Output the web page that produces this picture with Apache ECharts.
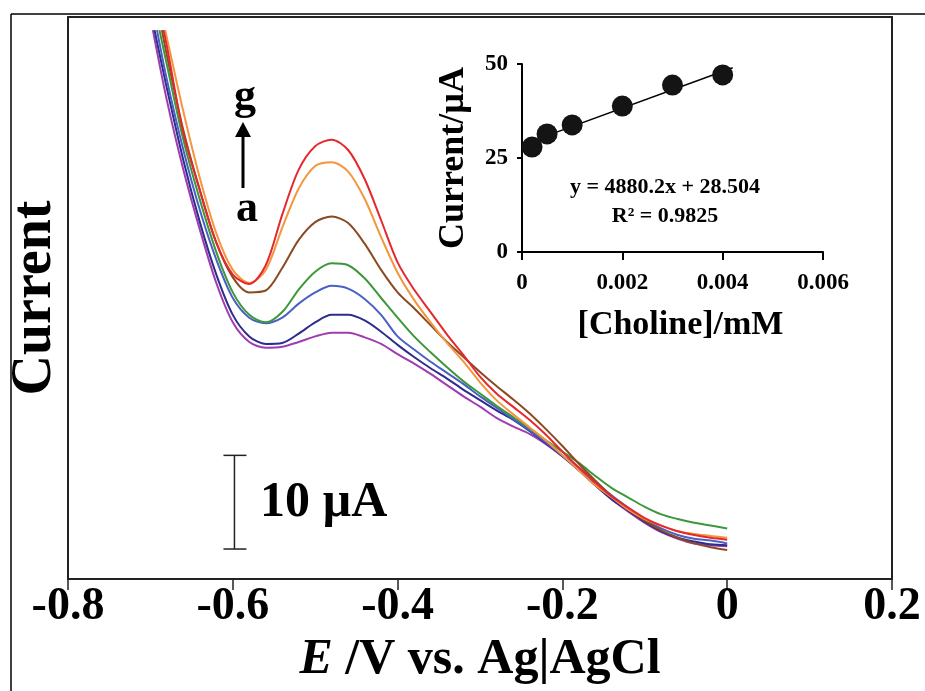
<!DOCTYPE html>
<html>
<head>
<meta charset="utf-8">
<script src="https://cdn.jsdelivr.net/npm/echarts@6/dist/echarts.min.js"></script>
<style>
  html, body { margin: 0; padding: 0; background: #fff; }
  #chart { width: 925px; height: 691px; }
</style>
</head>
<body>
<div id="chart"></div>
<script>
// main plot: potential (V) vs current (uA)
const potential = [-0.68, -0.66, -0.64, -0.62, -0.60, -0.58, -0.56, -0.54, -0.52, -0.50,
  -0.48, -0.46, -0.44, -0.42, -0.40, -0.38, -0.36, -0.34, -0.32, -0.30,
  -0.28, -0.26, -0.24, -0.22, -0.20, -0.18, -0.16, -0.14, -0.12, -0.10,
  -0.08, -0.06, -0.04, -0.02, 0]
const curveNames = ['a', 'b', 'c', 'd', 'e', 'f', 'g']
const curveColors = ['#a03cb0', '#2e2c8c', '#4a60c4', '#3c983a', '#8a4a22', '#f5953e', '#e5282e']
const startPotential = [-0.697, -0.695, -0.692, -0.689, -0.686, -0.682, -0.684]
const startCurrent = 58.6
const curveA = [51.1, 43.7, 37.3, 31.6, 27.4, 25.3, 24.7, 24.8, 25.3, 25.9, 26.3, 26.3, 25.8, 25.1, 24.0, 23.0, 21.9, 20.7, 19.5, 18.4, 17.2, 16.3, 15.5, 14.4, 13.1, 11.6, 10.0, 8.5, 7.2, 6.0, 5.0, 4.3, 3.8, 3.6, 3.5]
const curveB = [52.4, 44.7, 38.1, 32.5, 28.2, 25.9, 25.1, 25.2, 26.2, 27.4, 28.2, 28.2, 27.6, 26.4, 25.0, 23.7, 22.5, 21.4, 20.2, 19.1, 18.0, 17.0, 15.8, 14.5, 13.1, 11.6, 10.0, 8.5, 7.3, 6.1, 5.1, 4.4, 4.0, 3.7, 3.6]
const curveC = [53.3, 45.8, 39.4, 34.1, 30.0, 27.9, 27.3, 27.9, 29.4, 30.6, 31.3, 31.0, 29.9, 28.2, 25.9, 24.5, 23.2, 22.0, 20.8, 19.5, 18.3, 17.1, 15.9, 14.6, 13.2, 11.9, 10.4, 8.9, 7.6, 6.4, 5.4, 4.7, 4.3, 4.1, 3.8]
const curveD = [54.9, 46.9, 40.5, 34.9, 30.6, 28.2, 27.4, 28.5, 30.9, 32.8, 33.7, 33.5, 32.1, 30.0, 27.9, 25.9, 24.2, 22.6, 21.1, 19.8, 18.5, 17.3, 16.1, 14.8, 13.6, 12.4, 11.0, 9.7, 8.7, 7.7, 6.9, 6.4, 6.0, 5.7, 5.4]
const curveE = [55.9, 47.9, 41.5, 35.9, 32.2, 30.6, 30.8, 33.2, 36.2, 38.1, 38.7, 38.0, 35.8, 33.0, 30.6, 28.9, 27.1, 25.3, 23.7, 22.1, 20.6, 19.2, 17.7, 16.0, 14.2, 12.3, 10.5, 8.8, 7.4, 6.2, 5.2, 4.4, 3.8, 3.4, 3.1]
const curveF = [57.8, 49.9, 42.8, 36.9, 33.0, 31.6, 33.0, 37.5, 41.7, 44.1, 44.5, 43.5, 40.6, 36.5, 32.7, 29.8, 27.4, 25.2, 23.2, 21.0, 19.1, 17.6, 16.2, 14.8, 13.2, 11.6, 10.0, 8.7, 7.4, 6.4, 5.7, 5.1, 4.8, 4.6, 4.4]
const curveG = [56.9, 47.6, 41.5, 35.9, 32.5, 31.5, 33.5, 38.9, 43.7, 46.2, 46.9, 45.8, 42.7, 38.3, 33.8, 30.9, 28.5, 26.1, 23.9, 21.6, 19.8, 18.4, 17.0, 15.4, 13.6, 11.9, 10.3, 8.8, 7.6, 6.5, 5.7, 5.1, 4.7, 4.4, 4.2]
const curves = [curveA, curveB, curveC, curveD, curveE, curveF, curveG]

// scale bar (10 uA)
const scaleBarPotential = -0.598
const scaleBarCurrent = [3.2, 13.2]

// inset: calibration points
const cholineConc = [0.0002, 0.0005, 0.001, 0.002, 0.003, 0.004]
const insetCurrent = [27.9, 31.4, 33.8, 38.8, 44.4, 47.1]
const fitLine = [[0.0002, 29.5], [0.0042, 49.0]]

const font = 'Liberation Serif'
const chart = echarts.init(document.getElementById('chart'))

const curveSeries = curves.map((ys, k) => ({
  name: curveNames[k],
  type: 'line',
  xAxisIndex: 0,
  yAxisIndex: 0,
  smooth: 0.3,
  symbol: 'none',
  lineStyle: { color: curveColors[k], width: 2 },
  data: [[startPotential[k], startCurrent]].concat(potential.map((x, i) => [x, ys[i]])),
  z: 3
}))

function fmt (v, d) {
  return Math.abs(v) < 1e-9 ? '0' : v.toFixed(d)
}

chart.setOption({
  animation: false,
  grid: [
    { left: 65, right: 33, top: 17, bottom: 112 },
    { left: 522, right: 102, top: 64, bottom: 439 }
  ],
  xAxis: [{
    type: 'value',
    gridIndex: 0,
    min: -0.8,
    max: 0.2,
    interval: 0.2,
    axisLine: { onZero: false, lineStyle: { color: '#222', width: 2 } },
    axisTick: { length: 11, lineStyle: { color: '#222', width: 1.5 } },
    splitLine: { show: false },
    axisLabel: {
      formatter: v => fmt(v, 1),
      color: '#000', fontFamily: font, fontWeight: 'bold', fontSize: 46, margin: 5
    },
    name: '{i|E} /V vs. Ag|AgCl',
    nameLocation: 'middle',
    nameGap: 54,
    nameTextStyle: {
      color: '#000', fontFamily: font, fontWeight: 'bold', fontSize: 50,
      rich: { i: { fontFamily: font, fontWeight: 'bold', fontStyle: 'italic', fontSize: 50, color: '#000' } }
    }
  }, {
    type: 'value',
    gridIndex: 0,
    position: 'top',
    min: -0.8,
    max: 0.2,
    axisLine: { onZero: false, lineStyle: { color: '#222', width: 2 } },
    axisTick: { show: false },
    axisLabel: { show: false },
    splitLine: { show: false }
  }, {
    type: 'value',
    gridIndex: 1,
    min: 0,
    max: 0.006,
    interval: 0.002,
    axisLine: { onZero: false, lineStyle: { color: '#000', width: 2 } },
    axisTick: { length: 8, lineStyle: { color: '#000', width: 2 } },
    splitLine: { show: false },
    axisLabel: {
      formatter: v => fmt(v, 3),
      color: '#000', fontFamily: font, fontWeight: 'bold', fontSize: 23, margin: 20
    },
    name: '[Choline]/mM',
    nameLocation: 'middle',
    nameGap: 56,
    nameTextStyle: { color: '#000', fontFamily: font, fontWeight: 'bold', fontSize: 34, padding: [0, 0, 0, 16] }
  }],
  yAxis: [{
    type: 'value',
    gridIndex: 0,
    min: 0,
    max: 60,
    axisLine: { show: true, onZero: false, lineStyle: { color: '#222', width: 2 } },
    axisTick: { show: false },
    axisLabel: { show: false },
    splitLine: { show: false },
    name: 'Current',
    nameLocation: 'middle',
    nameGap: 4,
    nameTextStyle: { color: '#000', fontFamily: font, fontWeight: 'bold', fontSize: 56 }
  }, {
    type: 'value',
    gridIndex: 0,
    position: 'right',
    min: 0,
    max: 60,
    axisLine: { show: true, onZero: false, lineStyle: { color: '#222', width: 2 } },
    axisTick: { show: false },
    axisLabel: { show: false },
    splitLine: { show: false }
  }, {
    type: 'value',
    gridIndex: 1,
    min: 0,
    max: 50,
    interval: 25,
    axisLine: { show: true, onZero: false, lineStyle: { color: '#000', width: 2 } },
    axisTick: { show: true, length: 5, lineStyle: { color: '#000', width: 2 } },
    splitLine: { show: false },
    axisLabel: { color: '#000', fontFamily: font, fontWeight: 'bold', fontSize: 23, margin: 14 },
    name: 'Current/\u00b5A',
    nameLocation: 'middle',
    nameGap: 50,
    nameTextStyle: { color: '#000', fontFamily: font, fontWeight: 'bold', fontSize: 36 }
  }],
  series: curveSeries.concat([{
    // 10 uA scale bar
    type: 'custom',
    xAxisIndex: 0,
    yAxisIndex: 0,
    data: [[scaleBarPotential, scaleBarCurrent[0], scaleBarCurrent[1]]],
    encode: { x: 0, y: [1, 2] },
    renderItem (params, api) {
      const p0 = api.coord([api.value(0), api.value(1)])
      const p1 = api.coord([api.value(0), api.value(2)])
      const st = { stroke: '#222', lineWidth: 1.5 }
      return {
        type: 'group',
        children: [
          { type: 'line', shape: { x1: p0[0], y1: p0[1], x2: p1[0], y2: p1[1] }, style: st },
          { type: 'line', shape: { x1: p0[0] - 11, y1: p0[1], x2: p0[0] + 12, y2: p0[1] }, style: st },
          { type: 'line', shape: { x1: p1[0] - 11, y1: p1[1], x2: p1[0] + 12, y2: p1[1] }, style: st }
        ]
      }
    }
  }, {
    type: 'line',
    xAxisIndex: 2,
    yAxisIndex: 2,
    symbol: 'none',
    lineStyle: { color: '#000', width: 1.5 },
    data: fitLine,
    z: 2
  }, {
    type: 'scatter',
    xAxisIndex: 2,
    yAxisIndex: 2,
    symbolSize: 21,
    itemStyle: { color: '#141414', opacity: 1 },
    data: cholineConc.map((x, i) => [x, insetCurrent[i]]),
    z: 3
  }]),
  graphic: [
    // figure frame
    { type: 'line', shape: { x1: 11, y1: 14, x2: 925, y2: 14 }, style: { stroke: '#000', lineWidth: 1.5 } },
    { type: 'line', shape: { x1: 11, y1: 14, x2: 11, y2: 691 }, style: { stroke: '#000', lineWidth: 1.5 } },
    // g <- a arrow
    { type: 'text', x: 245, y: 98, style: { text: 'g', font: 'bold 44px "Liberation Serif"', fill: '#000', align: 'center', verticalAlign: 'middle' } },
    { type: 'text', x: 247, y: 210, style: { text: 'a', font: 'bold 44px "Liberation Serif"', fill: '#000', align: 'center', verticalAlign: 'middle' } },
    { type: 'line', shape: { x1: 243, y1: 188, x2: 243, y2: 132 }, style: { stroke: '#000', lineWidth: 3 } },
    { type: 'polygon', shape: { points: [[243, 122], [235, 137], [251, 137]] }, style: { fill: '#000' } },
    // scale bar label
    { type: 'text', x: 260, y: 503, style: { text: '10 \u00b5A', font: 'bold 50px "Liberation Serif"', fill: '#000', align: 'left', verticalAlign: 'middle' } },
    // inset regression
    { type: 'text', x: 665, y: 187, style: { text: 'y = 4880.2x + 28.504', font: 'bold 22px "Liberation Serif"', fill: '#000', align: 'center', verticalAlign: 'middle' } },
    { type: 'text', x: 665, y: 216, style: { text: 'R\u00b2 = 0.9825', font: 'bold 22px "Liberation Serif"', fill: '#000', align: 'center', verticalAlign: 'middle' } }
  ]
})
</script>
</body>
</html>
